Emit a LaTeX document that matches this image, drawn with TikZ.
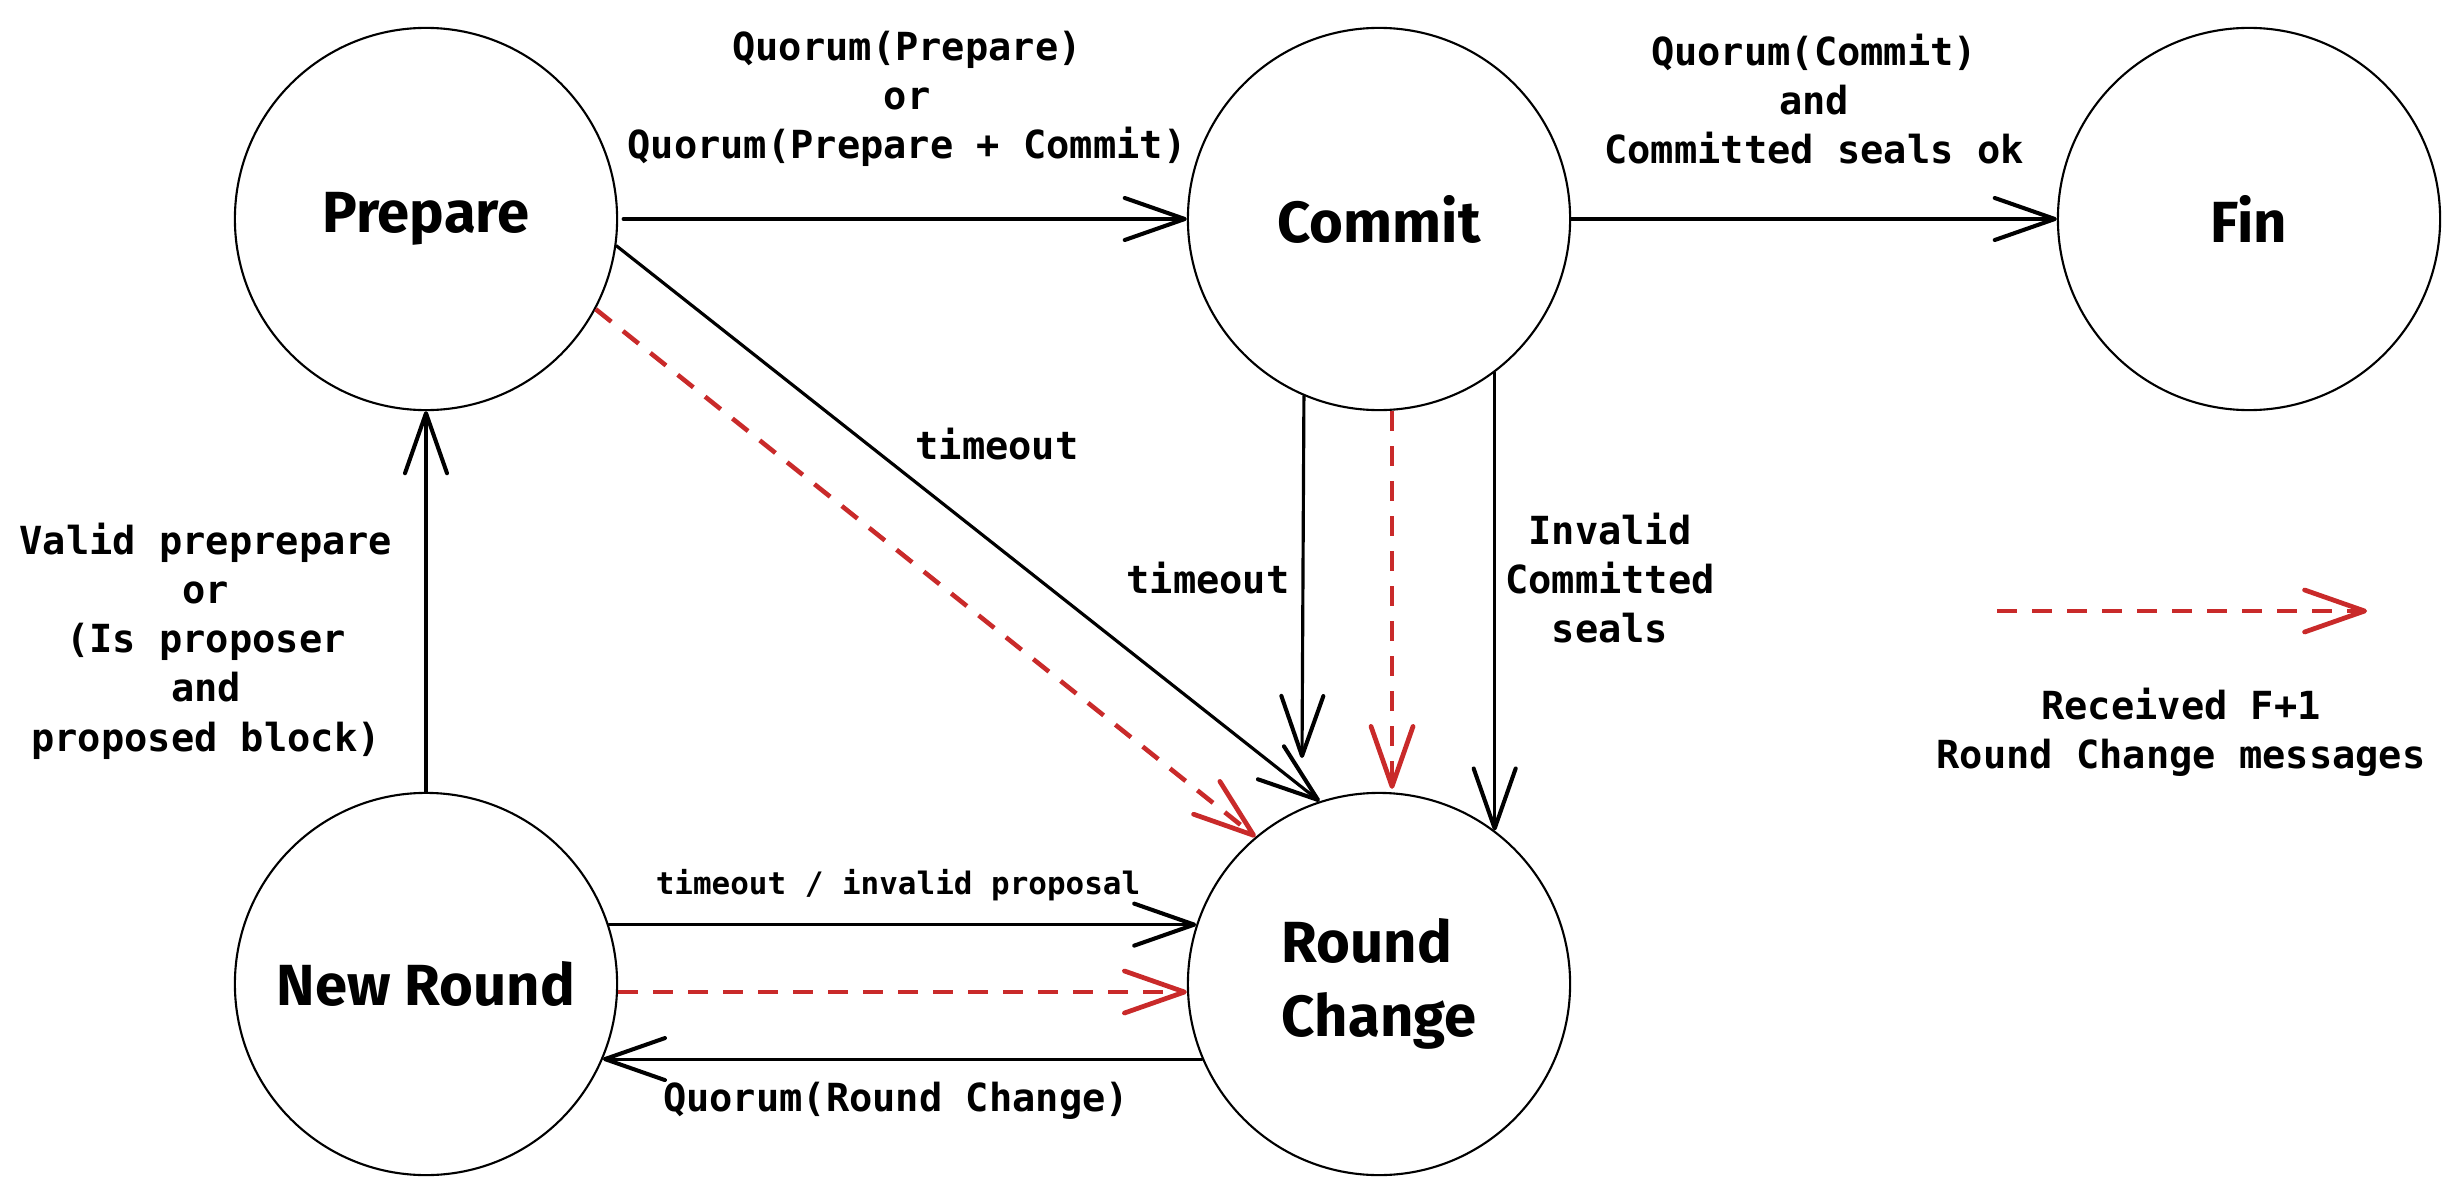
\documentclass[tikz,border=0pt]{standalone}
\usepackage{fontspec}
\setmonofont{DejaVu Sans Mono}
\newfontfamily\handfont{Fira Sans}
\usetikzlibrary{arrows.meta}
\definecolor{exred}{HTML}{C92A2A}
\begin{document}
\begin{tikzpicture}[x=0.01cm,y=-0.01cm,
  state/.style={circle, draw, line width=0.6pt, minimum size=3.82cm, inner sep=0pt,
    font=\handfont\bfseries\fontsize{16.5}{21}\selectfont},
  arr/.style={line width=0.9pt, line cap=round,
    -{Straight Barb[length=0.6cm,width=0.42cm,line width=1.15pt,round]}},
  redarr/.style={line width=1.3pt, draw=exred, line cap=butt, dash pattern=on 0.2cm off 0.15cm,
    -{Straight Barb[length=0.6cm,width=0.42cm,line width=1.35pt,round]}},
  lab/.style={font=\ttfamily\bfseries\fontsize{11}{14}\selectfont, align=center, inner sep=0pt},
  ]
\fill[white] (0,0) rectangle (2461,1185);
\useasboundingbox (0,0) rectangle (2461,1185);

% states
\node[state] (prep)   at (426,219)  {Prepare};
\node[state] (commit) at (1379,219) {Commit};
\node[state] (fin)    at (2249,219) {Fin};
\node[state] (nr)     at (426,984)  {New Round};
\node[state, align=left] (rc) at (1379,984) {Round\\Change};

% free ends
\coordinate (ctimeoutend) at (1302,758);
\coordinate (legA) at (1997,611);
\coordinate (legB) at (2367,611);

% connectors
\draw[arr] ([xshift=0.05cm]prep.east) -- (commit.west);
\draw[arr] (commit.east) -- (fin.west);
\draw[arr] (prep.-8) -- (rc.108);
\draw[redarr] (prep.-28) -- (rc.130);
\draw[arr] (commit.-113.8) -- (ctimeoutend);
\draw[redarr] ([xshift=0.13cm]commit.south) -- ([xshift=0.13cm,yshift=0.03cm]rc.north);
\draw[arr] (commit.-53) -- (commit.-53 |- rc.53);
\draw[arr] (nr.north) -- (prep.south);
\draw[arr] (nr.18) -- (rc.162);
\draw[redarr] ([yshift=-0.08cm]nr.east) -- ([yshift=-0.08cm]rc.west);
\draw[arr] (rc.-157) -- (nr.-23);
\draw[redarr] (legA) -- (legB);

% labels
\node[lab] (l1) at (907,99) {Quorum(Prepare)\\or\\Quorum(Prepare + Commit)};
\node[lab] (l2) at (1814,99) {Quorum(Commit)\\and\\Committed seals ok};
\node[lab] (l3) at (997,444) {timeout};
\node[lab] (l4) at (1208,578) {timeout};
\node[lab] (l5) at (1610,578) {Invalid\\Committed\\seals};
\node[lab] (l6) at (206,641) {Valid preprepare\\or\\(Is proposer\\and\\proposed block)};
\node[lab, font=\ttfamily\bfseries\fontsize{8.8}{11}\selectfont] (l7) at (898,885) {timeout / invalid proposal};
\node[lab] (l8) at (896,1101) {Quorum(Round Change)};
\node[lab] (l9) at (2181,732) {Received F+1\\Round Change messages};
\end{tikzpicture}
\end{document}
